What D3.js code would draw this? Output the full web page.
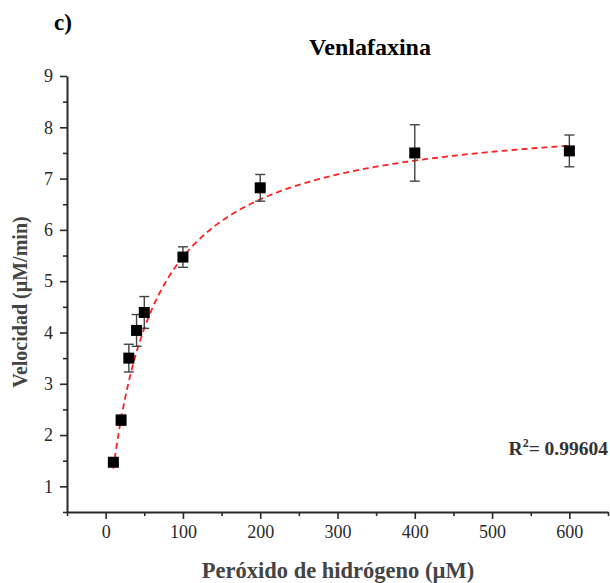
<!DOCTYPE html>
<html>
<head>
<meta charset="utf-8">
<script src="https://cdn.jsdelivr.net/npm/d3@7"></script>
<style>
  html, body { margin: 0; padding: 0; background: #fff; }
  svg { display: block; }
  text { font-family: "Liberation Serif", "Times New Roman", serif; }
</style>
</head>
<body>
<svg id="chart" width="610" height="583"></svg>
<script>
// Hydrogen peroxide concentration (µM)
const concentration = [10, 20, 30, 40, 50, 100, 200, 400, 600];
// Mean reaction rate (µM/min)
const velocity = [1.47, 2.29, 3.50, 4.04, 4.39, 5.47, 6.82, 7.50, 7.54];
// Standard deviation of the rate
const velocityErr = [0.04, 0.10, 0.27, 0.31, 0.31, 0.20, 0.26, 0.55, 0.31];
// Michaelis–Menten fit parameters
const fitVmax = 8.30;
const fitKm = 51.7;
const fitR2 = "0.99604";

const xTicks = [0, 100, 200, 300, 400, 500, 600];
const yTicks = [1, 2, 3, 4, 5, 6, 7, 8, 9];

const svg = d3.select("#chart");
const plotLeft = 67, plotRight = 608, plotTop = 76, plotBottom = 512;

const x = d3.scaleLinear().domain([-50, 650]).range([plotLeft, plotRight]);
const y = d3.scaleLinear().domain([0.5, 9]).range([plotBottom, plotTop]);

const axisColor = "#2a2a2a";
const labelColor = "#444";
const tickFont = "'Liberation Serif', 'Times New Roman', serif";

// Minor ticks
const xMinor = d3.range(-50, 651, 100);
const yMinor = d3.range(0.5, 9, 1);

const gx = svg.append("g").attr("transform", `translate(0,${plotBottom})`);
gx.call(d3.axisBottom(x).tickValues(xMinor).tickSize(4).tickFormat(""));
gx.call(g => g.select(".domain").remove());
const gxMajor = svg.append("g").attr("transform", `translate(0,${plotBottom})`)
  .call(d3.axisBottom(x).tickValues(xTicks).tickSize(7).tickPadding(6).tickSizeOuter(0));
[gx, gxMajor].forEach(g => {
  g.selectAll("line").attr("stroke", axisColor).attr("stroke-width", 1.6);
});
gxMajor.select(".domain").attr("stroke", axisColor).attr("stroke-width", 2);
gxMajor.selectAll("text").attr("font-size", 18).attr("fill", "#2a2a2a")
  .attr("font-family", tickFont);

const gy = svg.append("g").attr("transform", `translate(${plotLeft},0)`);
gy.call(d3.axisLeft(y).tickValues(yMinor).tickSize(4).tickFormat(""));
gy.call(g => g.select(".domain").remove());
const gyMajor = svg.append("g").attr("transform", `translate(${plotLeft},0)`)
  .call(d3.axisLeft(y).tickValues(yTicks).tickSize(7).tickPadding(7).tickSizeOuter(0));
[gy, gyMajor].forEach(g => {
  g.selectAll("line").attr("stroke", axisColor).attr("stroke-width", 1.6);
});
gyMajor.select(".domain").attr("stroke", axisColor).attr("stroke-width", 2);
gyMajor.selectAll("text").attr("font-size", 18).attr("fill", "#2a2a2a")
  .attr("font-family", tickFont);

// Fitted Michaelis–Menten curve
const fitX = d3.range(10, 600.1, 2);
const line = d3.line().x(d => x(d)).y(d => y(fitVmax * d / (fitKm + d)));
svg.append("path")
  .datum(fitX)
  .attr("d", line)
  .attr("fill", "none")
  .attr("stroke", "#ff2020")
  .attr("stroke-width", 1.8)
  .attr("stroke-dasharray", "6,4");

// Error bars
const data = concentration.map((c, i) => ({ c, v: velocity[i], e: velocityErr[i] }));
const eb = svg.append("g").attr("stroke", "#444").attr("stroke-width", 1.4);
data.forEach(d => {
  const cx = x(d.c);
  eb.append("line").attr("x1", cx).attr("x2", cx).attr("y1", y(d.v - d.e)).attr("y2", y(d.v + d.e));
  [d.v - d.e, d.v + d.e].forEach(val => {
    eb.append("line").attr("x1", cx - 5).attr("x2", cx + 5).attr("y1", y(val)).attr("y2", y(val));
  });
});

// Data markers
svg.append("g").selectAll("rect")
  .data(data)
  .join("rect")
  .attr("x", d => x(d.c) - 5.5)
  .attr("y", d => y(d.v) - 5.5)
  .attr("width", 11)
  .attr("height", 11)
  .attr("fill", "#000");

// Title and panel letter
svg.append("text").attr("x", 370).attr("y", 55).attr("text-anchor", "middle")
  .attr("font-size", 24).attr("font-weight", "bold").attr("fill", "#000")
  .text("Venlafaxina");
svg.append("text").attr("x", 54).attr("y", 30)
  .attr("font-size", 23).attr("font-weight", "bold").attr("fill", "#000")
  .text("c)");

// Axis titles
svg.append("text")
  .attr("transform", `translate(27,302) rotate(-90)`)
  .attr("text-anchor", "middle")
  .attr("font-size", 20).attr("font-weight", "bold").attr("fill", labelColor)
  .text("Velocidad (µM/min)");
svg.append("text").attr("x", 338).attr("y", 578).attr("text-anchor", "middle")
  .attr("font-size", 22.5).attr("font-weight", "bold").attr("fill", labelColor)
  .text("Peróxido de hidrógeno (µM)");

// Goodness-of-fit annotation
const r2 = svg.append("text").attr("x", 608).attr("y", 455).attr("text-anchor", "end")
  .attr("font-size", 19.5).attr("font-weight", "bold").attr("fill", "#333");
r2.append("tspan").text("R");
r2.append("tspan").attr("dy", -8).attr("font-size", 12).text("2");
r2.append("tspan").attr("dy", 8).text("= " + fitR2);
</script>
</body>
</html>
